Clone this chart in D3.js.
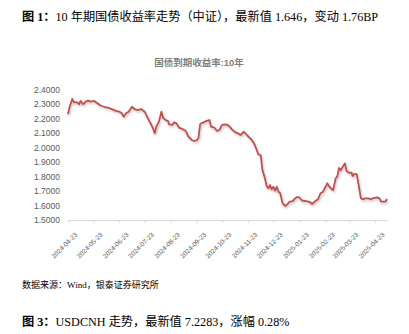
<!DOCTYPE html>
<html>
<head>
<meta charset="utf-8">
<script src="https://cdn.jsdelivr.net/npm/d3@7/dist/d3.min.js"></script>
<style>
  html, body { margin: 0; padding: 0; background: #ffffff; }
  svg { display: block; }
</style>
</head>
<body>
<svg id="chart" width="409" height="334"></svg>
<script>
// ---- data ----
const dates = [
  "2024-04-23","2024-04-25","2024-04-28","2024-04-30","2024-05-04","2024-05-06","2024-05-08","2024-05-11",
  "2024-05-14","2024-05-17","2024-05-20","2024-05-24","2024-05-28","2024-06-01","2024-06-05","2024-06-10",
  "2024-06-14","2024-06-19","2024-06-23","2024-06-26","2024-06-28","2024-07-01","2024-07-04","2024-07-08",
  "2024-07-11","2024-07-15","2024-07-19","2024-07-23","2024-07-27","2024-07-31","2024-08-02","2024-08-04",
  "2024-08-06","2024-08-09","2024-08-12","2024-08-14","2024-08-17","2024-08-20","2024-08-21","2024-08-25",
  "2024-08-27","2024-08-30","2024-09-02","2024-09-06","2024-09-10","2024-09-13","2024-09-17","2024-09-20",
  "2024-09-23","2024-09-25","2024-09-27","2024-10-01","2024-10-04","2024-10-08","2024-10-10","2024-10-14",
  "2024-10-17","2024-10-20","2024-10-23","2024-10-27","2024-10-31","2024-11-04","2024-11-08","2024-11-11",
  "2024-11-14","2024-11-18","2024-11-22","2024-11-27","2024-12-01","2024-12-05","2024-12-08","2024-12-10",
  "2024-12-13","2024-12-15","2024-12-17","2024-12-19","2024-12-21","2024-12-23","2024-12-25","2024-12-27",
  "2024-12-29","2024-12-31","2025-01-03","2025-01-06","2025-01-09","2025-01-11","2025-01-15","2025-01-17",
  "2025-01-20","2025-01-23","2025-01-26","2025-01-31","2025-02-04","2025-02-07","2025-02-10","2025-02-14",
  "2025-02-17","2025-02-20","2025-02-23","2025-02-25","2025-02-27","2025-03-02","2025-03-04","2025-03-07",
  "2025-03-09","2025-03-11","2025-03-13","2025-03-16","2025-03-18","2025-03-20","2025-03-23","2025-03-26",
  "2025-03-27","2025-03-29","2025-04-01","2025-04-03","2025-04-06","2025-04-08","2025-04-11","2025-04-15",
  "2025-04-17","2025-04-20","2025-04-25","2025-04-28","2025-04-30","2025-05-05","2025-05-07"
];
const yields = [
  2.232,2.284,2.338,2.315,2.315,2.301,2.324,2.301,
  2.319,2.326,2.319,2.324,2.308,2.291,2.284,2.277,
  2.268,2.255,2.250,2.239,2.215,2.239,2.250,2.284,
  2.268,2.261,2.268,2.250,2.204,2.158,2.135,2.100,
  2.146,2.181,2.250,2.208,2.192,2.185,2.162,2.158,
  2.176,2.169,2.139,2.130,2.116,2.077,2.054,2.047,
  2.052,2.066,2.165,2.176,2.185,2.192,2.146,2.139,
  2.116,2.123,2.158,2.162,2.153,2.126,2.107,2.100,
  2.088,2.111,2.085,2.057,2.019,1.957,1.946,1.846,
  1.788,1.735,1.719,1.742,1.712,1.730,1.703,1.730,
  1.696,1.687,1.615,1.597,1.611,1.626,1.631,1.645,
  1.659,1.656,1.635,1.631,1.626,1.611,1.626,1.643,
  1.685,1.696,1.730,1.754,1.735,1.716,1.707,1.788,
  1.802,1.860,1.844,1.874,1.892,1.837,1.827,1.827,
  1.804,1.818,1.818,1.754,1.650,1.643,1.650,1.650,
  1.643,1.650,1.657,1.650,1.627,1.627,1.646
];
const yTicks = [1.5,1.6,1.7,1.8,1.9,2.0,2.1,2.2,2.3,2.4];
const xTickLabels = ["2024-04-23","2024-05-23","2024-06-23","2024-07-23","2024-08-23","2024-09-23",
  "2024-10-23","2024-11-23","2024-12-23","2025-01-23","2025-02-23","2025-03-23","2025-04-23"];
const figTitleBold = "图 1：";
const figTitleRest = "10 年期国债收益率走势（中证），最新值 1.646，变动 1.76BP";
const chartTitle = "国债到期收益率:10年";
const sourceText = "数据来源：Wind，银泰证券研究所";
const nextTitleBold = "图 3：";
const nextTitleRest = "USDCNH 走势，最新值 7.2283，涨幅 0.28%";

// ---- drawing ----
(function () {
const parse = d3.timeParse("%Y-%m-%d");
const data = dates.map((d, i) => ({ date: parse(d), value: yields[i] }));
const svg = d3.select("#chart");
const serif = "'Liberation Serif', 'Noto Sans CJK SC', serif";
const sans = "'Liberation Sans', 'Noto Sans CJK SC', sans-serif";

const plotLeft = 68, plotRight = 387, plotTop = 90, plotBottom = 220;
const x = d3.scaleTime().domain([parse(xTickLabels[0]), data[data.length - 1].date]).range([plotLeft, plotRight]);
const y = d3.scaleLinear().domain([1.5, 2.4]).range([plotBottom, plotTop]);

// figure title
const t1 = svg.append("text").attr("x", 22).attr("y", 21)
  .style("font-family", serif).style("font-size", "12.2px").attr("fill", "#000");
t1.append("tspan").attr("font-weight", "bold").text(figTitleBold);
t1.append("tspan").text(figTitleRest);

// chart title
svg.append("text").attr("x", 199).attr("y", 66).attr("text-anchor", "middle")
  .style("font-family", sans).style("font-size", "9.5px").style("font-weight", "bold")
  .attr("fill", "#7f7f7f").text(chartTitle);

// y axis labels
svg.append("g").selectAll("text").data(yTicks).join("text")
  .attr("x", 60).attr("y", d => y(d)).attr("dy", "0.35em").attr("text-anchor", "end")
  .style("font-family", sans).style("font-size", "8.5px").attr("fill", "#595959")
  .text(d => d.toFixed(4));

// x axis
const xAxis = d3.axisBottom(x)
  .tickValues(xTickLabels.map(parse))
  .tickFormat(d3.timeFormat("%Y-%m-%d"))
  .tickSize(3).tickSizeOuter(0);
const gx = svg.append("g").attr("transform", `translate(0,${plotBottom})`).call(xAxis);
gx.select(".domain").attr("stroke", "#d9d9d9");
gx.selectAll(".tick line").attr("stroke", "#d9d9d9");
gx.selectAll(".tick text")
  .style("font-family", sans).style("font-size", "6.5px").attr("fill", "#595959")
  .attr("text-anchor", "end").attr("dx", 0).attr("dy", 0)
  .attr("transform", "translate(5,11) rotate(-45)");

// shadow filter
const defs = svg.append("defs");
const f = defs.append("filter").attr("id", "shadow").attr("x", "-5%").attr("y", "-5%").attr("width", "110%").attr("height", "120%");
f.append("feDropShadow").attr("dx", 1).attr("dy", 1.5).attr("stdDeviation", 1)
  .attr("flood-color", "#000").attr("flood-opacity", 0.25);

// line
const line = d3.line().x(d => x(d.date)).y(d => y(d.value));
svg.append("path").datum(data).attr("d", line)
  .attr("fill", "none").attr("stroke", "#c0504d").attr("stroke-width", 1.8)
  .attr("stroke-linejoin", "round").attr("filter", "url(#shadow)");

// source
svg.append("text").attr("x", 22).attr("y", 288)
  .style("font-family", serif).style("font-size", "9px").attr("fill", "#000").text(sourceText);

// next figure title
const t3 = svg.append("text").attr("x", 22).attr("y", 326)
  .style("font-family", serif).style("font-size", "12.2px").attr("fill", "#000");
t3.append("tspan").attr("font-weight", "bold").text(nextTitleBold);
t3.append("tspan").text(nextTitleRest);
})();
</script>
</body>
</html>
